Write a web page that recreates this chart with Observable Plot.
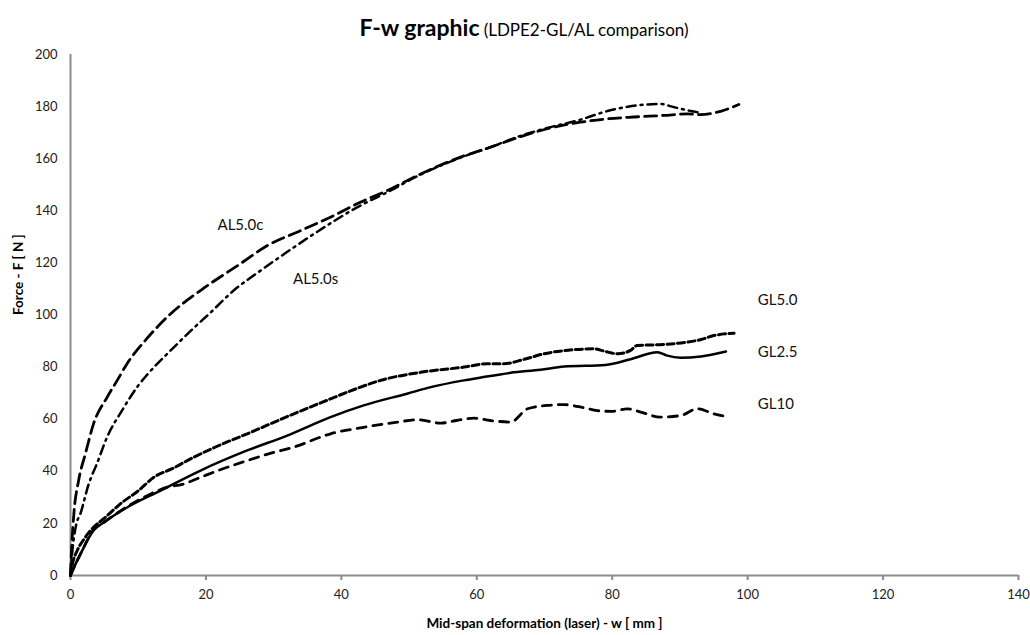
<!DOCTYPE html>
<html>
<head>
<meta charset="utf-8">
<script src="https://cdn.jsdelivr.net/npm/d3@7"></script>
<script src="https://cdn.jsdelivr.net/npm/@observablehq/plot@0.6"></script>
<style>
  body { margin: 0; background: #fff; font-family: Lato, "Open Sans", sans-serif; }
  #title { height: 45px; width: 1030px; box-sizing: border-box; padding-left: 18px; text-align: center; line-height: 54px; color: #000; white-space: nowrap; }
  #title b { font-size: 23px; font-weight: 700; }
  #title span { font-size: 17px; }
</style>
</head>
<body>
<div id="title"><b>F-w graphic</b> <span>(LDPE2-GL/AL comparison)</span></div>
<div id="chart"></div>
<script>
// Series: AL5.0c (long dash)
const al50c_w = [0, 0.2, 0.5, 1.2, 2.2, 3.4, 5.4, 6.9, 8.4, 11.3, 14.8, 19.2, 25.1, 29.1, 34, 38.9, 42.8, 47.3, 50.7, 57.6, 62, 66.5, 70.4, 75.3, 79.3, 83.2, 87.6, 91.1, 93, 96, 98.7];
const al50c_F = [0, 12, 23.8, 36.5, 46.7, 58.2, 68.4, 74.9, 81.5, 91.0, 100.5, 109.4, 119.7, 126.7, 132.4, 138.2, 143.3, 148.4, 152.9, 160.6, 164.4, 168.5, 171.5, 174, 175.3, 176, 176.6, 177.2, 176.9, 178.2, 180.8];
// Series: AL5.0s (dash-dot)
const al50s_w = [0, 0.3, 0.8, 1.5, 2.7, 3.9, 5.4, 7.6, 10.0, 11.3, 14.8, 18.2, 20.7, 24.1, 28.1, 33, 37.9, 42.8, 47.3, 50.7, 57.6, 62, 66.5, 70.4, 75.3, 79.3, 83.2, 87.1, 89.1, 91.6, 92.6];
const al50s_F = [0, 10, 19, 24, 35.2, 42.9, 53.1, 63.3, 72.9, 77.0, 86.4, 95.0, 101.0, 109.4, 117.1, 126, 134.4, 142, 147.8, 152.6, 160.4, 164.4, 168.8, 171.8, 175, 178.3, 180.3, 181, 179.8, 178.3, 177.8];
// Series: GL5.0 (short dash)
const gl50_w = [0, 0.3, 1.0, 2.0, 3.4, 5.0, 7.4, 10.0, 12.3, 15.0, 18.2, 22.0, 26.1, 32.0, 38.4, 42.0, 45.8, 51.7, 58.1, 61.5, 64.0, 67.0, 69.9, 73.5, 77.3, 79.0, 80.8, 82.7, 83.7, 87.0, 91.1, 93.0, 95.0, 98.0];
const gl50_F = [0, 4.5, 9.6, 14.0, 18.5, 22.0, 27.6, 32.5, 37.7, 41.0, 45.4, 50.0, 54.4, 61.0, 67.8, 71.5, 74.9, 78.0, 80.0, 81.3, 81.3, 83.0, 85.1, 86.5, 87.0, 86.0, 85.1, 86.4, 88.3, 88.6, 89.6, 90.5, 92.1, 93.0];
// Series: GL2.5 (solid)
const gl25_w = [0, 0.5, 1.5, 3.4, 5.0, 8.4, 13.3, 19.2, 26.1, 32.0, 38.4, 43.3, 49.7, 53.2, 58.1, 60.6, 65.0, 69.4, 72.9, 79.0, 82.7, 86.7, 88.0, 90.1, 93.1, 96.8];
const gl25_F = [0, 3, 8.4, 17.3, 20.5, 26.2, 32.6, 40.3, 48, 53.7, 60.8, 65.3, 69.8, 72.3, 74.9, 76, 77.8, 79, 80.2, 80.8, 83, 85.7, 84.5, 83.6, 84.1, 86];
// Series: GL10 (dashed)
const gl10_w = [0, 0.5, 1.5, 3.4, 5.0, 8.4, 12.0, 14.3, 16.5, 19.2, 22.0, 26.1, 29.0, 33.0, 38.4, 43.3, 48.3, 51.2, 54.7, 57.0, 59.6, 62.0, 65.0, 67.5, 70.4, 72.9, 75.8, 77.8, 80.0, 82.2, 84.5, 87.1, 90.1, 92.6, 95.0, 96.8];
const gl10_F = [0, 3, 8.4, 17.5, 20.5, 26.5, 31.5, 33.9, 35, 37.7, 40.5, 44.1, 46.5, 49.3, 54.4, 56.9, 58.9, 59.8, 58.5, 59.5, 60.4, 59.5, 58.9, 64, 65.3, 65.6, 64.4, 63.3, 63, 64, 62.5, 60.8, 61.4, 64, 62.1, 61];

// Curve labels
const labelNames = ["AL5.0c", "AL5.0s", "GL5.0", "GL2.5", "GL10"];
const labelW = [25.1, 36.2, 101.5, 101.5, 101.5];
const labelF = [134.4, 113.6, 105.6, 85.6, 65.6];
const labelAnchor = ["middle", "middle", "start", "start", "start"];

// Axes
const xTicks = [0, 20, 40, 60, 80, 100, 120, 140];
const yTicks = [0, 20, 40, 60, 80, 100, 120, 140, 160, 180, 200];
const xTitle = "Mid-span deformation (laser) - w [ mm ]";
const yTitle = "Force - F [ N ]";

const toRows = (ws, fs) => ws.map((w, i) => ({w, F: fs[i]}));

const series = [
  {rows: toRows(al50c_w, al50c_F), dash: "12,6", width: 2.8},
  {rows: toRows(al50s_w, al50s_F), dash: "9,5,2,5", width: 2.5},
  {rows: toRows(gl50_w, gl50_F), dash: "7,3.5", width: 3},
  {rows: toRows(gl25_w, gl25_F), dash: null, width: 2.5},
  {rows: toRows(gl10_w, gl10_F), dash: "9,7", width: 2.8}
];

const labels = labelNames.map((t, i) => ({t, w: labelW[i], F: labelF[i], a: labelAnchor[i]}));

const plot = Plot.plot({
  width: 1030,
  height: 590,
  marginTop: 9,
  marginBottom: 60,
  marginLeft: 70,
  marginRight: 12,
  style: {fontFamily: "Lato, 'Open Sans', sans-serif", fontSize: "13px", color: "#222", background: "#fff"},
  x: {domain: [0, 140]},
  y: {domain: [0, 200]},
  marks: [
    Plot.axisY({ticks: yTicks, tickSize: 0, tickPadding: 13, label: null, fontSize: 13}),
    Plot.axisX({ticks: xTicks, tickSize: 5, tickPadding: 9, label: null, fontSize: 13, stroke: "#8c8c8c", strokeWidth: 2}),
    Plot.ruleX([0], {stroke: "#8c8c8c", strokeWidth: 2}),
    Plot.ruleY([0], {stroke: "#8c8c8c", strokeWidth: 2}),
    ...series.map(s => Plot.line(s.rows, {x: "w", y: "F", stroke: "#000", strokeWidth: s.width, strokeDasharray: s.dash, curve: "monotone-x"})),
    Plot.text(labels.filter(d => d.a === "middle"), {x: "w", y: "F", text: "t", fontSize: 15, fill: "#111"}),
    Plot.text(labels.filter(d => d.a === "start"), {x: "w", y: "F", text: "t", textAnchor: "start", fontSize: 15, fill: "#111"}),
    Plot.text([xTitle], {frameAnchor: "bottom", dy: 52, fontWeight: "bold", fontSize: 13.5, fill: "#000"}),
    Plot.text([yTitle], {frameAnchor: "left", dx: -52, rotate: -90, fontWeight: "bold", fontSize: 13.5, fill: "#000"})
  ]
});
document.getElementById("chart").appendChild(plot);
</script>
</body>
</html>
